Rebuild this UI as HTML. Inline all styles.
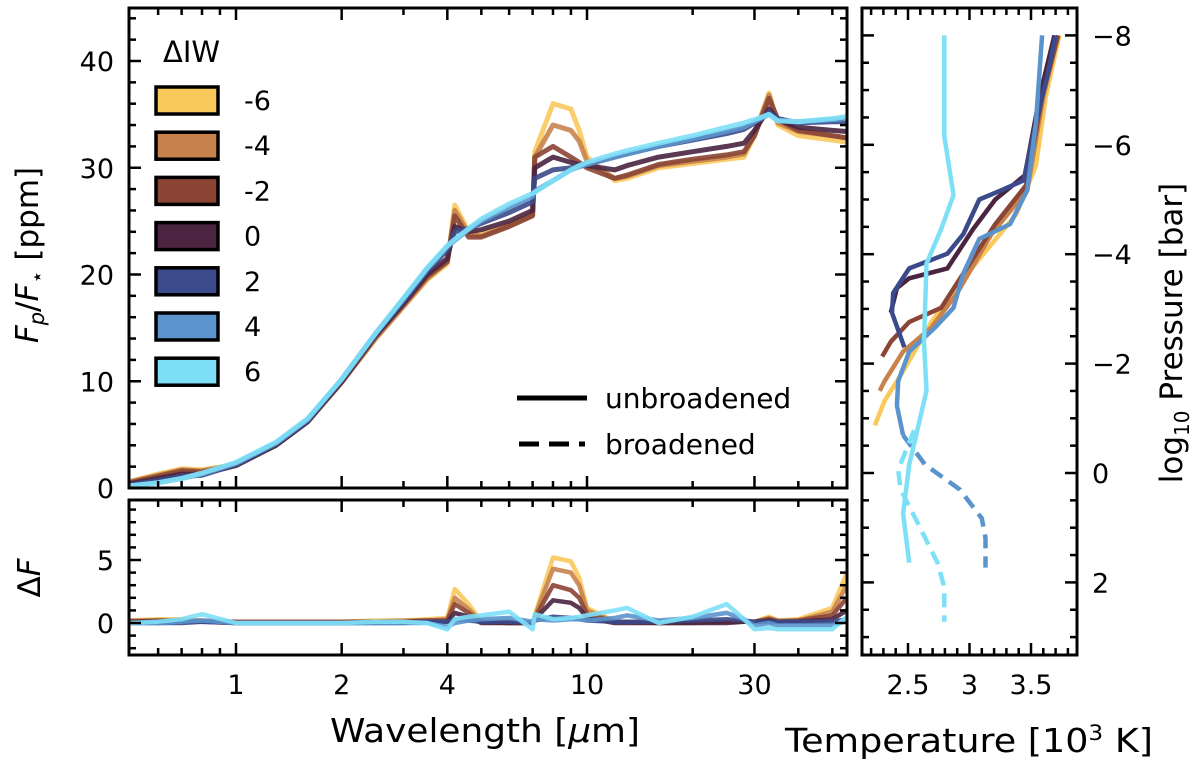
<!DOCTYPE html>
<html><head><meta charset="utf-8">
<style>
html,body{margin:0;padding:0;background:#fff;overflow:hidden;}
svg{display:block;font-family:"DejaVu Sans","Liberation Sans",sans-serif;}
</style></head>
<body>
<svg id="fig" width="1200" height="762" viewBox="0 0 1200 762" xmlns="http://www.w3.org/2000/svg">
<g id="gmain"></g>
<g id="gres"></g>
<g id="gtp"></g>
<g id="gtxt">
<text x="330" y="742" font-size="33" textLength="310" lengthAdjust="spacingAndGlyphs">Wavelength [<tspan font-style="italic">μ</tspan>m]</text>
<text x="785" y="752" font-size="33" textLength="368" lengthAdjust="spacingAndGlyphs">Temperature [10<tspan font-size="21" dy="-12">3</tspan><tspan dy="12"> K]</tspan></text>
<text transform="translate(38,255) rotate(-90)" font-size="31" text-anchor="middle"><tspan font-style="italic">F</tspan><tspan font-style="italic" font-size="21" dy="6">p</tspan><tspan dy="-6">/</tspan><tspan font-style="italic">F</tspan><tspan font-size="21" dy="6">⋆</tspan><tspan dy="-6">  [ppm]</tspan></text>
<text transform="translate(40,578) rotate(-90)" font-size="31" text-anchor="middle">Δ<tspan font-style="italic">F</tspan></text>
<text transform="translate(1182,333) rotate(-90)" font-size="31" text-anchor="middle">log<tspan font-size="20" dy="7">10</tspan><tspan dy="-7">  Pressure [bar]</tspan></text>
</g>
</svg>
<script>
// ---- spectrum data ----
const wavelengths=[0.5,0.6,0.7,0.8,1,1.3,1.6,2,2.5,3,3.5,4,4.2,4.6,5,6,7,7.1,8,9,9.5,10,12,13,16,20,25,28,30,33,35,40,50,55];
const seriesLabels=["-6","-4","-2","0","2","4","6"];
const seriesColors=["#f9c95c","#c8834c","#8b4535","#4a2440","#3b4a8a","#5b93cc","#7ee0f7"];
const fluxM6=[0.6,1.3,1.8,1.7,2.2,4.0,6.2,9.9,14.0,17.0,19.5,21.0,26.5,24.0,23.8,24.7,25.7,31.5,36.0,35.5,33.5,31.0,28.8,29.0,30.0,30.4,30.8,31.0,33.0,37.0,34.0,33.0,32.6,32.4];
const fluxM4=[0.6,1.2,1.7,1.6,2.2,4.0,6.2,9.9,14.0,17.0,19.6,21.2,26.0,23.8,23.6,24.6,25.6,31.0,34.0,33.5,32.5,30.6,29.0,29.2,30.2,30.6,31.0,31.3,33.2,36.8,34.2,33.4,33.0,32.8];
const fluxM2=[0.5,1.1,1.6,1.5,2.2,4.0,6.2,9.9,14.2,17.2,19.8,21.2,25.5,23.5,23.5,24.5,25.5,31.0,32.0,31.0,30.5,30.0,29.0,29.3,30.3,30.8,31.2,31.5,33.0,36.5,34.5,33.5,33.0,32.8];
const flux0=[0.4,0.9,1.3,1.3,2.1,4.0,6.2,10.0,14.3,17.3,20.0,21.5,24.5,24.0,24.2,25.0,26.0,30.0,31.0,30.5,30.3,30.2,29.8,30.2,31.0,31.5,32.0,32.3,33.5,35.5,34.5,33.8,33.5,33.4];
const flux2=[0.3,0.7,1.1,1.2,2.2,4.1,6.3,10.1,14.4,17.5,20.3,22.3,24.0,24.3,24.8,25.8,26.8,29.0,29.8,30.0,30.2,30.3,31.0,31.3,32.0,32.6,33.2,33.6,34.2,35.2,34.6,34.2,34.3,34.3];
const flux4=[0.2,0.5,0.9,1.3,2.3,4.2,6.4,10.2,14.5,17.7,20.5,22.6,23.2,24.2,25.0,26.3,27.3,27.8,28.8,29.8,30.1,30.3,31.0,31.3,32.0,32.7,33.4,33.8,34.3,35.0,34.4,34.3,34.5,34.6];
const flux6=[0.2,0.5,0.9,1.4,2.4,4.3,6.5,10.2,14.5,17.8,20.6,22.7,23.3,24.3,25.2,26.6,27.6,27.7,28.8,29.8,30.2,30.5,31.3,31.6,32.3,33.0,33.8,34.2,34.5,35.0,34.4,34.3,34.6,34.8];
const fluxSeries=[fluxM6,fluxM4,fluxM2,flux0,flux2,flux4,flux6];
// ---- residual data ----
const resM6=[0.2,0.3,0.3,0.2,0.1,0.1,0.1,0.1,0.2,0.2,0.3,0.4,2.7,1.5,0.1,0.0,0.0,0.6,5.2,4.9,3.6,1.2,0.1,0.1,0.0,0.1,0.1,0.1,0.1,0.5,0.2,0.3,1.2,4.0];
const resM4=[0.2,0.2,0.2,0.2,0.1,0.1,0.1,0.1,0.1,0.2,0.2,0.3,2.0,1.1,0.1,0.0,0.0,0.5,4.3,4.0,3.0,1.0,0.1,0.1,0.0,0.1,0.1,0.1,0.1,0.4,0.2,0.2,0.9,3.0];
const resM2=[0.1,0.2,0.2,0.1,0.1,0.1,0.1,0.1,0.1,0.1,0.2,0.2,1.5,0.8,0.1,0.0,0.0,0.4,3.0,2.6,2.0,0.7,0.1,0.1,0.0,0.0,0.1,0.1,0.1,0.3,0.1,0.2,0.6,2.0];
const res0=[0.1,0.1,0.1,0.1,0.0,0.0,0.0,0.0,0.1,0.1,0.1,0.1,0.8,0.5,0.0,0.0,0.0,0.3,1.8,1.6,1.2,0.4,0.0,0.0,0.0,0.0,0.0,0.1,0.1,0.2,0.1,0.1,0.3,1.0];
const res2=[0.0,0.0,0.0,0.1,0.0,0.0,0.0,0.0,0.0,0.0,0.1,0.1,0.3,0.2,0.1,0.1,0.0,0.2,0.5,0.4,0.3,0.2,0.1,0.1,0.1,0.2,0.3,0.2,0.1,0.1,0.1,0.1,0.1,0.3];
const res4=[0.0,0.0,0.1,0.2,0.0,0.0,0.0,0.0,0.0,0.0,0.0,-0.3,0.0,0.2,0.3,0.4,0.1,0.3,0.2,0.3,0.3,0.2,0.4,0.6,0.2,0.4,0.8,0.3,-0.2,0.0,-0.2,-0.2,-0.2,0.2];
const res6=[0.0,0.1,0.3,0.7,0.0,0.0,0.0,0.0,0.1,0.1,0.0,-0.5,0.3,0.5,0.6,0.9,-0.5,0.7,0.3,0.4,0.5,0.6,1.0,1.2,0.0,0.5,1.5,0.3,-0.5,-0.4,-0.5,-0.5,-0.5,0.5];
const resSeries=[resM6,resM4,resM2,res0,res2,res4,res6];
// ---- temperature-pressure data (T in 10^3 K, log10 P in bar) ----
const tpTempM6=[3.73,3.62,3.54,3.38,2.95,2.69,2.46,2.31,2.23];
const tpPresM6=[-8,-6.88,-5.62,-4.73,-3.56,-2.76,-1.86,-1.32,-0.87];
const tpTempM4=[3.72,3.60,3.47,3.18,2.90,2.69,2.46,2.31,2.27];
const tpPresM4=[-8,-6.88,-5.17,-4.37,-3.29,-2.66,-2.22,-1.68,-1.5];
const tpTempM2=[3.72,3.59,3.46,3.21,2.95,2.77,2.51,2.36,2.29];
const tpPresM2=[-8,-6.88,-5.26,-4.55,-3.65,-3.02,-2.76,-2.4,-2.13];
const tpTemp0=[3.69,3.57,3.45,3.21,3.03,2.82,2.51,2.41,2.36];
const tpPres0=[-8,-6.88,-5.44,-5.0,-4.46,-3.74,-3.56,-3.38,-2.93];
const tpTemp2=[3.70,3.64,3.54,3.44,3.26,3.08,2.95,2.82,2.51,2.38,2.37,2.47];
const tpPres2=[-8,-7.33,-6.4,-5.35,-5.17,-5.0,-4.37,-4.01,-3.74,-3.29,-2.93,-2.3];
const tpTemp4=[3.59,3.54,3.47,3.33,3.08,2.95,2.87,2.72,2.51,2.42,2.41,2.46];
const tpPres4=[-8,-6.4,-5.17,-4.55,-4.28,-3.65,-3.02,-2.66,-2.22,-1.68,-1.23,-0.69];
const tpTemp4b=[2.46,2.64,2.92,3.10,3.13,3.13];
const tpPres4b=[-0.69,-0.15,0.3,0.83,1.19,1.73];
const tpTemp6=[2.795,2.795,2.87,2.77,2.65,2.63,2.65,2.51,2.46,2.51];
const tpPres6=[-8,-6.16,-5.08,-4.46,-3.83,-2.4,-1.5,-0.15,0.74,1.64];
const tpTemp6b=[2.55,2.42,2.44,2.56,2.74,2.795,2.795];
const tpPres6b=[-0.78,-0.06,0.3,0.83,1.64,2.09,2.72];

const NS="http://www.w3.org/2000/svg";
function mk(tag,attrs,parent){const e=document.createElementNS(NS,tag);for(const k in attrs)e.setAttribute(k,attrs[k]);parent.appendChild(e);return e;}

const MX0=129,MX1=847;
const xW=w=>236+351*Math.log10(w);
const TY0=8,TY1=488; const yF=v=>488-10.675*v;
const RY0=500,RY1=655; const yR=v=>623-12.6*v;
const PX0=862,PX1=1077,PY0=8,PY1=655;
const xT=t=>908+123*(t-2.5); const yP=p=>473+54.7*p;

function lineStr(xs,ys,fx,fy){return xs.map((x,i)=>(i?'L':'M')+fx(x).toFixed(1)+' '+fy(ys[i]).toFixed(1)).join(' ');}

const gm=document.getElementById('gmain'),gr=document.getElementById('gres'),gt=document.getElementById('gtp');
const defs=mk('defs',{},document.getElementById('fig'));
const c1=mk('clipPath',{id:'c1'},defs);mk('rect',{x:MX0,y:TY0,width:MX1-MX0,height:TY1-TY0},c1);
const c2=mk('clipPath',{id:'c2'},defs);mk('rect',{x:MX0,y:RY0,width:MX1-MX0,height:RY1-RY0},c2);
const c3=mk('clipPath',{id:'c3'},defs);mk('rect',{x:PX0,y:PY0,width:PX1-PX0,height:PY1-PY0},c3);

const gmL=mk('g',{'clip-path':'url(#c1)'},gm);
const grL=mk('g',{'clip-path':'url(#c2)'},gr);
const gtL=mk('g',{'clip-path':'url(#c3)'},gt);
fluxSeries.forEach((s,i)=>{
  const p=mk('path',{d:lineStr(wavelengths,s,xW,yF),fill:'none',stroke:seriesColors[i],'stroke-width':5,'stroke-linejoin':'round',opacity:0.9},gmL);
  
  
});
resSeries.forEach((s,i)=>{
  const p=mk('path',{d:lineStr(wavelengths,s,xW,yR),fill:'none',stroke:seriesColors[i],'stroke-width':4.5,'stroke-linejoin':'round',opacity:0.9},grL);
  
  
});
const tpSets=[[tpTempM6,tpPresM6,0,false],[tpTempM4,tpPresM4,1,false],[tpTempM2,tpPresM2,2,false],[tpTemp0,tpPres0,3,false],[tpTemp2,tpPres2,4,false],[tpTemp4,tpPres4,5,false],[tpTemp4b,tpPres4b,5,true],[tpTemp6,tpPres6,6,false],[tpTemp6b,tpPres6b,6,true]];
tpSets.forEach(s=>{
  const a={d:lineStr(s[0],s[1],xT,yP),fill:'none',stroke:seriesColors[s[2]],'stroke-width':4.5,'stroke-linejoin':'round'};
  if(s[3])a['stroke-dasharray']='14 8';
  const p=mk('path',a,gtL);
  
  
});

function frame(g,x0,y0,x1,y1){mk('rect',{x:x0,y:y0,width:x1-x0,height:y1-y0,fill:'none',stroke:'#000','stroke-width':3},g);}
function vt(g,x,y0,y1,len){mk('line',{x1:x,x2:x,y1:y0,y2:y0+len,stroke:'#000','stroke-width':2.5},g);mk('line',{x1:x,x2:x,y1:y1,y2:y1-len,stroke:'#000','stroke-width':2.5},g);}
function ht(g,y,x0,x1,len){mk('line',{x1:x0,x2:x0+len,y1:y,y2:y,stroke:'#000','stroke-width':2.5},g);mk('line',{x1:x1,x2:x1-len,y1:y,y2:y,stroke:'#000','stroke-width':2.5},g);}
function txt(g,x,y,s,anchor,name){const t=mk('text',{x:x,y:y,'font-size':27,'text-anchor':anchor},g);t.textContent=s;return t;}

frame(gm,MX0,TY0,MX1,TY1);frame(gr,MX0,RY0,MX1,RY1);frame(gt,PX0,PY0,PX1,PY1);
const xMajor=[1,2,4,10,30];const xMinor=[0.6,0.7,0.8,0.9,3,5,6,7,8,9,20,40,50];
xMajor.forEach(w=>{vt(gm,xW(w),TY0,TY1,12);vt(gr,xW(w),RY0,RY1,12);txt(gr,xW(w),694,String(w),'middle','x-tick-'+w);});
xMinor.forEach(w=>{vt(gm,xW(w),TY0,TY1,7);vt(gr,xW(w),RY0,RY1,7);});
for(let v=0;v<=44;v+=2){const maj=v%10===0;ht(gm,yF(v),MX0,MX1,maj?12:7);if(maj)txt(gm,114,yF(v)+10,String(v),'end','y-tick-'+v);}
for(let v=-2;v<=9;v++){if(yR(v)<RY0+2||yR(v)>RY1-2)continue;const maj=v%5===0;ht(gr,yR(v),MX0,MX1,maj?12:7);if(maj)txt(gr,114,yR(v)+10,String(v),'end','residual-tick-'+v);}
for(let t=22;t<=38;t++){const T=t/10;const maj=t%5===0;vt(gt,xT(T),PY0,PY1,maj?12:7);if(maj)txt(gt,xT(T),694,String(T),'middle','temp-tick-'+T);}
for(let p=-9;p<=3;p+=0.5){if(yP(p)<PY0+2||yP(p)>PY1-2)continue;const maj=p%2===0;ht(gt,yP(p),PX0,PX1,maj?12:7);if(maj)txt(gt,1092,yP(p)+10,(p<0?'−':'')+Math.abs(p),'start','pressure-tick-'+p);}

const lg=mk('g',{},gm);
const lt=mk('text',{x:163,y:62,'font-size':29},lg);lt.textContent='ΔIW';
seriesLabels.forEach((l,i)=>{
  const y=100+45.2*i;
  const r=mk('rect',{x:156,y:y-13,width:62,height:27,fill:seriesColors[i],stroke:'#000','stroke-width':3.5},lg);
  
  
  const t=mk('text',{x:244,y:y+10,'font-size':27},lg);t.textContent=l;
  
  
});
const lg2=mk('g',{},gm);
mk('line',{x1:517,x2:587,y1:398,y2:398,stroke:'#000','stroke-width':5},lg2);
mk('line',{x1:519,x2:585,y1:444,y2:444,stroke:'#000','stroke-width':5,'stroke-dasharray':'20 10'},lg2);
const u=mk('text',{x:605,y:408,'font-size':28},lg2);u.textContent='unbroadened';
const b=mk('text',{x:605,y:454,'font-size':28},lg2);b.textContent='broadened';
</script>
</body></html>
